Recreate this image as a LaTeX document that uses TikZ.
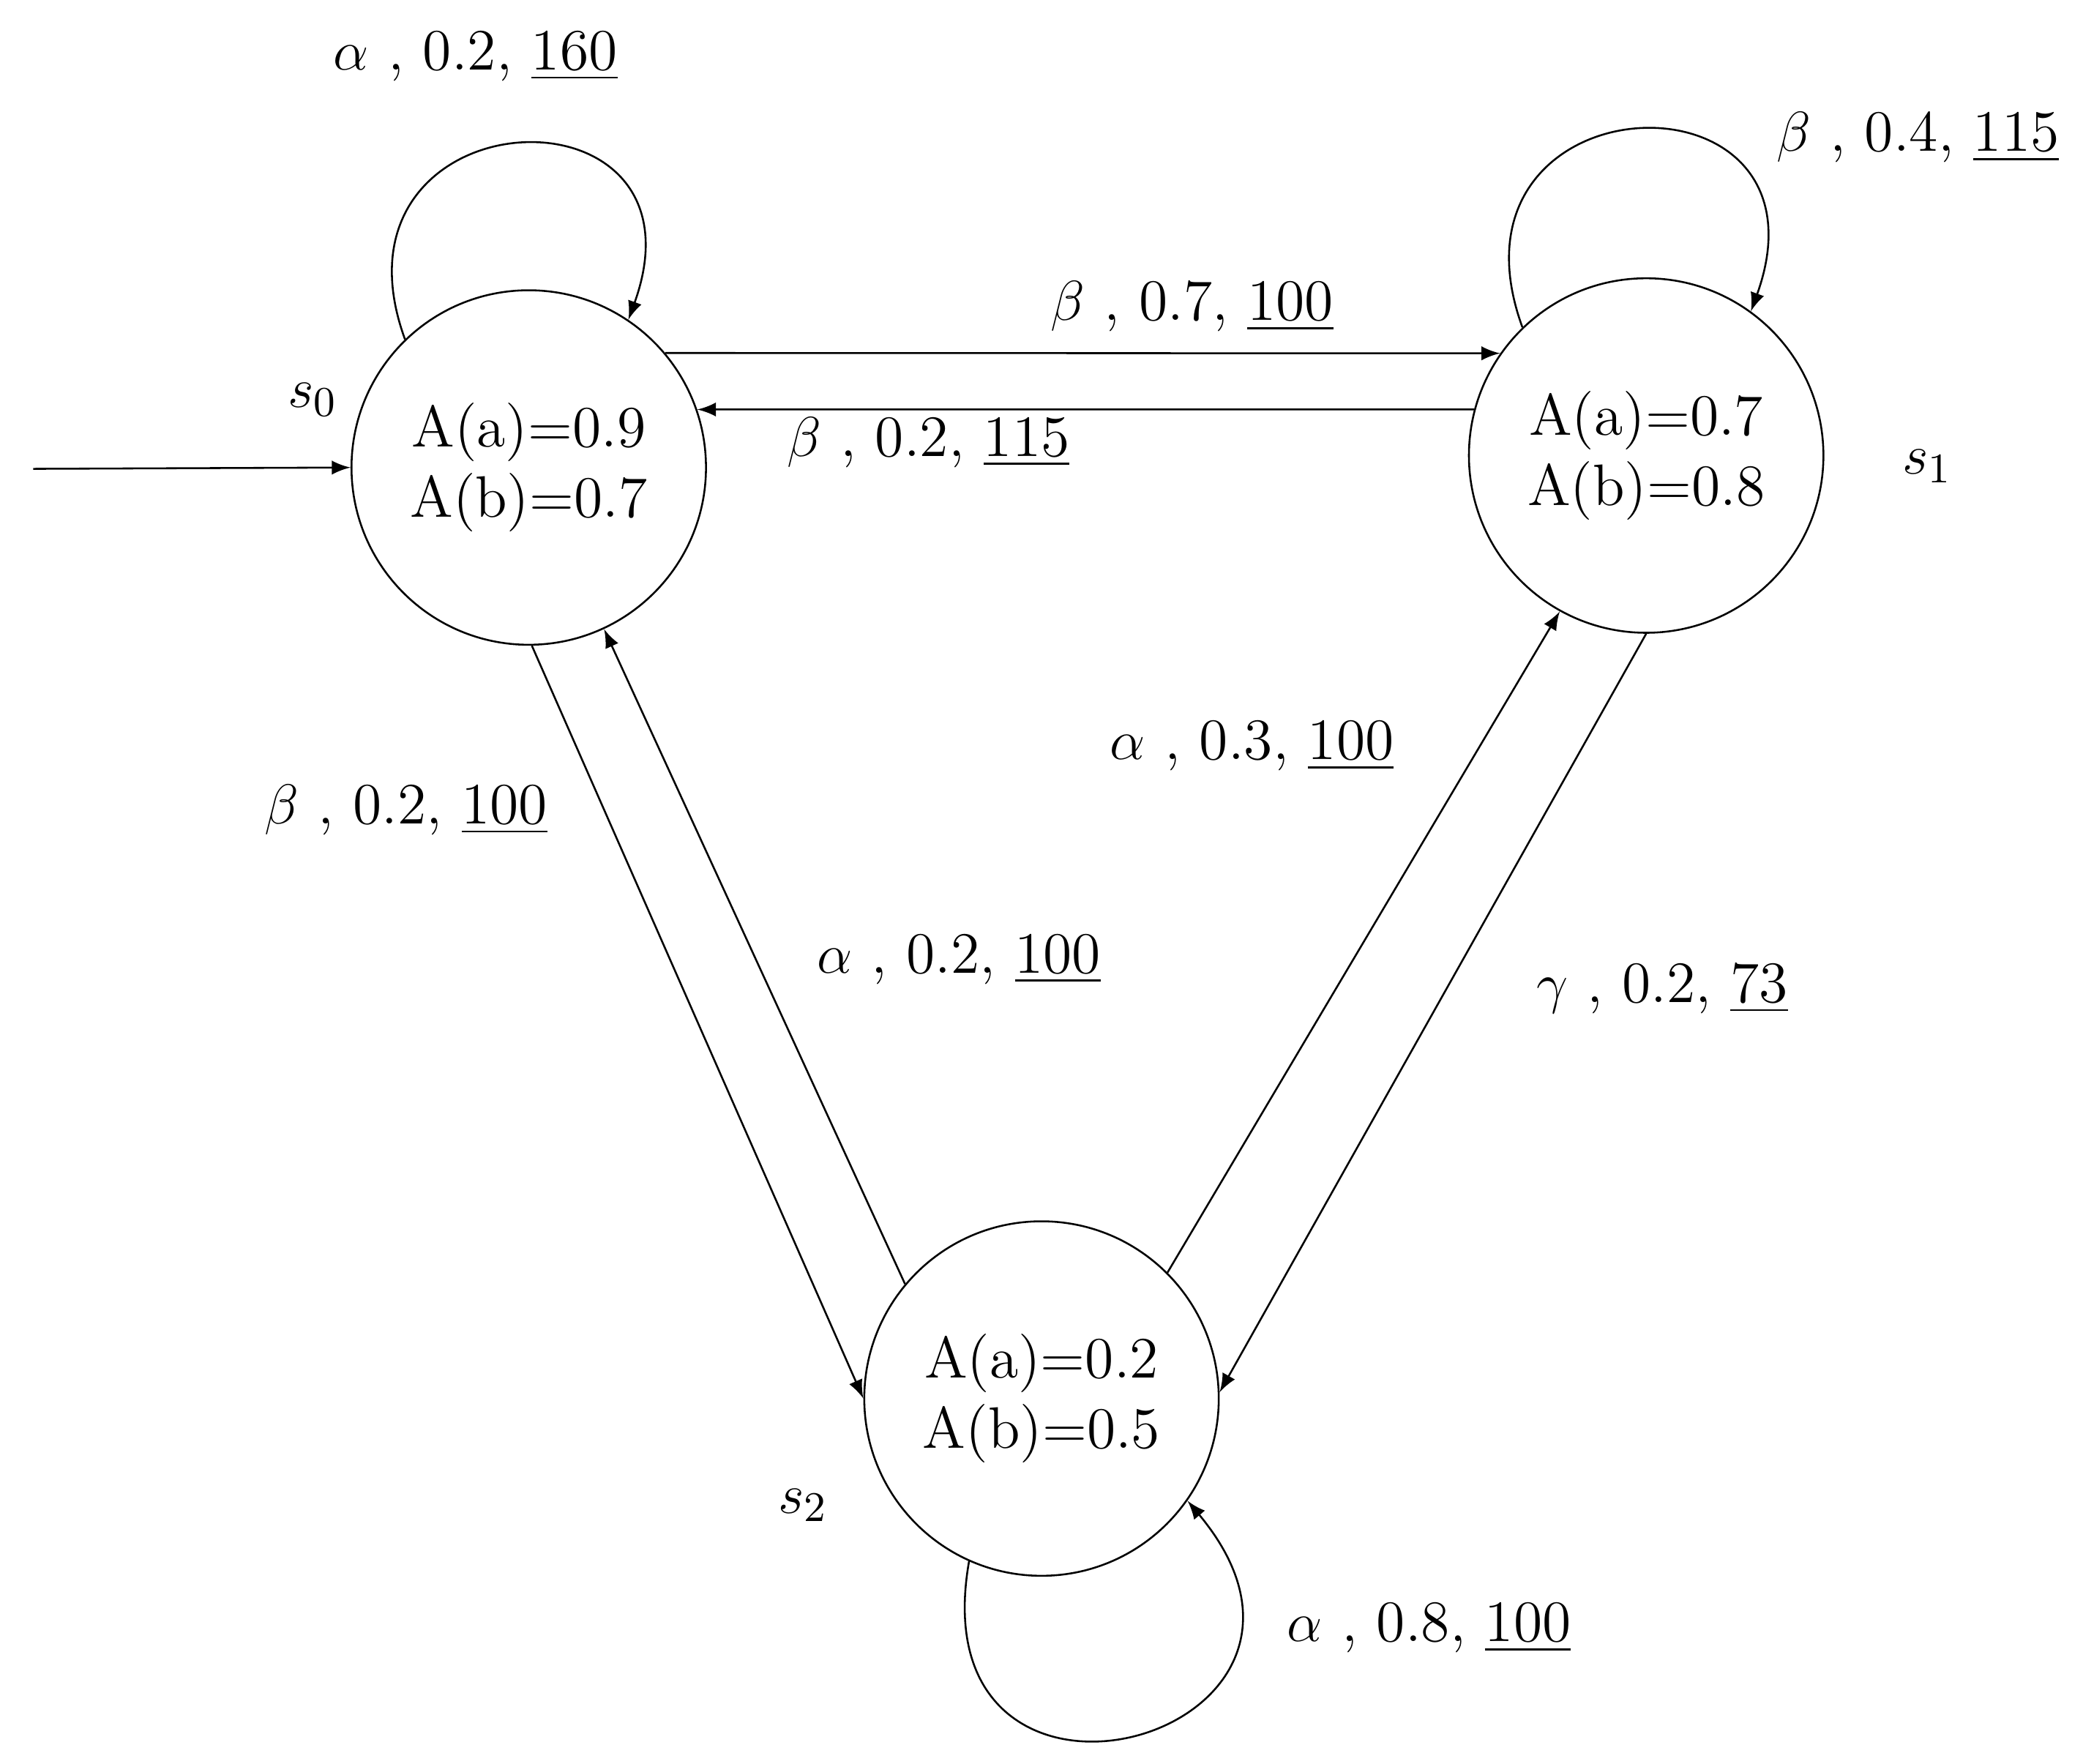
\documentclass[tikz,border=0pt]{standalone}
\usepackage{tikz}
\usetikzlibrary{arrows,positioning}
\begin{document}
\begin{tikzpicture}
[ x=0.01cm, y=-0.01cm,
		state/.style={circle,draw,minimum size=2.66cm,inner sep=0pt,align=center,font=\fontsize{12.5}{15}\selectfont},
		label/.style={font=\fontsize{12.5}{15}\selectfont},
		arrowOut/.style={->,>=latex}]
	\useasboundingbox (0,0) rectangle (1564,1324);

	\node[state] (s0) at (397,351) {A(a)=0.9\\A(b)=0.7};
	\node[state] (s1) at (1236,342) {A(a)=0.7\\A(b)=0.8};
	\node[state] (s2) at (782,1050) {A(a)=0.2\\A(b)=0.5};
	\coordinate (start) at (25,352);

	\node[label] (n0) at (235,300) {$s_0$};
	\node[label] (n1) at (1447,350) {$s_1$};
	\node[label] (n2) at (603,1130) {$s_2$};

	\draw[arrowOut] (start) -- (s0.west);
	\draw[arrowOut] (s0.40) -- (s1.145);
	\draw[arrowOut] (s1.165) -- (s0.19);
	\draw[arrowOut] (s0.-89) -- (s2.180);
	\draw[arrowOut] (s2.140) -- (s0.-65);
	\draw[arrowOut] (s2.45) -- (s1.-119);
	\draw[arrowOut] (s1.-90) -- (s2.2);
	\draw[arrowOut] (s0.134) to[out=110,in=70,looseness=3] (s0.56);
	\draw[arrowOut] (s1.134) to[out=110,in=70,looseness=3] (s1.54);
	\draw[arrowOut] (s2.-114) to[out=-100,in=-50,looseness=3.5] (s2.-35);

	\node[label] (l00) at (357,42) {$\alpha$ , 0.2, \underline{160}};
	\node[label] (l11) at (1440,103) {$\beta$ , 0.4, \underline{115}};
	\node[label] (l01) at (895,230) {$\beta$ , 0.7, \underline{100}};
	\node[label] (l10) at (697,332) {$\beta$ , 0.2, \underline{115}};
	\node[label] (l02) at (305,608) {$\beta$ , 0.2, \underline{100}};
	\node[label] (l21) at (940,560) {$\alpha$ , 0.3, \underline{100}};
	\node[label] (l20) at (720,720) {$\alpha$ , 0.2, \underline{100}};
	\node[label] (l12) at (1248,742) {$\gamma$ , 0.2, \underline{73}};
	\node[label] (l22) at (1073,1222) {$\alpha$ , 0.8, \underline{100}};
\end{tikzpicture}
\end{document}
